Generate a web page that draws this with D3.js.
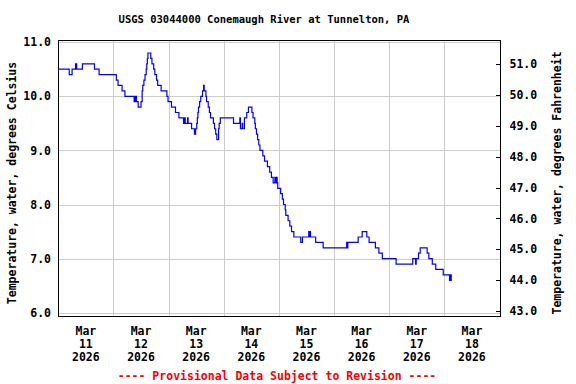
<!DOCTYPE html>
<html><head><meta charset="utf-8">
<script src="https://cdn.jsdelivr.net/npm/d3@7"></script>
<style>html,body{margin:0;padding:0;background:#fff;}svg{display:block;}</style>
</head><body>
<svg id="chart" width="576" height="384"></svg>
<script>
// ---- data ----
const obsTimes = [
"03-11 00:00","03-11 04:45","03-11 06:00","03-11 07:30","03-11 08:00","03-11 10:30","03-11 15:45","03-11 17:45",
"03-12 01:15","03-12 02:00","03-12 03:45","03-12 05:00","03-12 09:00","03-12 09:30","03-12 10:00","03-12 10:45",
"03-12 12:00","03-12 12:30","03-12 12:45","03-12 13:15","03-12 13:45","03-12 14:15","03-12 14:30","03-12 14:45",
"03-12 15:00","03-12 16:15","03-12 16:45","03-12 17:30","03-12 18:00","03-12 18:45","03-12 19:15","03-12 20:45",
"03-12 23:15","03-12 23:45","03-13 01:15","03-13 03:00","03-13 04:30","03-13 06:30","03-13 07:00","03-13 07:15",
"03-13 08:15","03-13 08:30","03-13 10:00","03-13 11:15","03-13 11:45","03-13 12:15","03-13 12:30","03-13 12:45",
"03-13 13:00","03-13 13:30","03-13 14:00","03-13 14:45","03-13 15:15","03-13 15:30","03-13 16:15","03-13 16:30",
"03-13 17:15","03-13 17:45","03-13 18:15","03-13 19:30","03-13 20:00","03-13 20:30","03-13 21:00","03-13 21:45",
"03-13 22:00","03-13 22:30","03-14 04:15","03-14 07:00","03-14 07:15","03-14 08:00","03-14 08:15","03-14 09:00",
"03-14 10:00","03-14 10:45","03-14 12:15","03-14 12:45","03-14 13:30","03-14 13:45","03-14 14:15","03-14 14:45",
"03-14 15:15","03-14 15:45","03-14 17:00","03-14 17:45","03-14 19:00","03-14 20:00","03-14 20:45","03-14 21:30",
"03-14 22:15","03-14 22:30","03-14 23:00","03-14 23:15","03-14 23:30","03-15 00:45","03-15 01:30","03-15 02:00",
"03-15 02:45","03-15 03:00","03-15 04:00","03-15 04:45","03-15 05:30","03-15 06:30","03-15 09:30","03-15 10:15",
"03-15 13:00","03-15 13:15","03-15 13:30","03-15 13:45","03-15 16:00","03-15 19:15","03-16 05:30","03-16 05:45",
"03-16 06:00","03-16 10:30","03-16 12:15","03-16 14:15","03-16 15:15","03-16 18:00","03-16 19:30","03-16 21:00",
"03-17 03:00","03-17 10:15","03-17 11:30","03-17 11:45","03-17 12:45","03-17 13:30","03-17 16:30","03-17 17:15",
"03-17 18:45","03-17 20:15","03-17 23:30","03-18 02:15","03-18 02:45","03-18 03:00","03-18 03:15"
];
const tempC = [
10.5,10.4,10.5,10.6,10.5,10.6,10.5,10.4,
10.3,10.2,10.1,10.0,9.9,10.0,9.9,9.8,
9.9,10.1,10.2,10.3,10.4,10.5,10.6,10.7,
10.8,10.7,10.6,10.5,10.4,10.3,10.2,10.1,
10.0,9.9,9.8,9.7,9.6,9.5,9.6,9.5,
9.6,9.5,9.4,9.3,9.4,9.5,9.6,9.7,
9.8,9.9,10.0,10.1,10.2,10.1,10.0,9.9,
9.8,9.7,9.6,9.5,9.4,9.3,9.2,9.4,
9.5,9.6,9.5,9.6,9.4,9.5,9.4,9.6,
9.7,9.8,9.7,9.6,9.5,9.4,9.3,9.2,
9.1,9.0,8.9,8.8,8.7,8.6,8.5,8.4,
8.5,8.4,8.5,8.4,8.3,8.2,8.1,8.0,
7.9,7.8,7.7,7.6,7.5,7.4,7.3,7.4,
7.5,7.4,7.5,7.4,7.3,7.2,7.3,7.2,
7.3,7.4,7.5,7.4,7.3,7.2,7.1,7.0,
6.9,7.0,6.9,7.0,7.1,7.2,7.1,7.0,
6.9,6.8,6.7,6.6,6.7,6.6,6.6
];
const celsiusTicks = [6, 7, 8, 9, 10, 11];
const fahrenheitTicks = [43, 44, 45, 46, 47, 48, 49, 50, 51];
const dayTicks = ["03-11","03-12","03-13","03-14","03-15","03-16","03-17","03-18"];
const titleText = "USGS 03044000 Conemaugh River at Tunnelton, PA";
const leftLabel = "Temperature, water, degrees Celsius";
const rightLabel = "Temperature, water, degrees Fahrenheit";
const footText = "---- Provisional Data Subject to Revision ----";
const yearText = "2026";

// ---- drawing ----
const parse = d3.timeParse("%Y-%m-%d %H:%M");
const data = obsTimes.map((t, i) => ({ t: parse(yearText + "-" + t), v: tempC[i] }));

const FONT = "'DejaVu Sans Mono', monospace";
const FS = "11.5px";
const svg = d3.select("#chart");
const L = 58, R = 500, T = 40, B = 316;

const x = d3.scaleTime()
  .domain([parse(yearText + "-03-11 00:00"), parse(yearText + "-03-19 00:00")])
  .range([58.3, 499.5]);
const yC = d3.scaleLinear().domain([5.94, 11.04]).range([B, T]);
const yF = d3.scaleLinear().domain([43, 51]).range([311, 64]);

// grid
const grid = svg.append("g").attr("stroke", "#cccccc").attr("stroke-width", 1).attr("shape-rendering", "crispEdges");
celsiusTicks.forEach(c => {
  grid.append("line").attr("x1", L).attr("x2", R).attr("y1", Math.round(yC(c)) + 0.5).attr("y2", Math.round(yC(c)) + 0.5);
});
dayTicks.slice(1).forEach(d => {
  const xx = Math.round(x(parse(yearText + "-" + d + " 00:00"))) + 0.5;
  grid.append("line").attr("x1", xx).attr("x2", xx).attr("y1", T).attr("y2", B);
});

// data line
const line = d3.line().x(d => x(d.t)).y(d => yC(d.v)).curve(d3.curveStepAfter);
svg.append("path").datum(data)
  .attr("fill", "none").attr("stroke", "#0000ff").attr("stroke-width", 1.2)
  .attr("d", line);

// frame
svg.append("rect").attr("x", L + 0.5).attr("y", T + 0.5).attr("width", R - L).attr("height", B - T)
  .attr("fill", "none").attr("stroke", "#000").attr("stroke-width", 1).attr("shape-rendering", "crispEdges");

// left axis labels
const leftAxis = d3.axisLeft(yC).tickValues(celsiusTicks).tickFormat(d3.format(".1f")).tickSize(0).tickPadding(7);
const gL = svg.append("g").attr("transform", `translate(${L},0)`).call(leftAxis);
gL.select(".domain").remove();
gL.selectAll("text").attr("font-family", FONT).attr("font-weight", "bold").attr("font-size", FS).attr("fill", "#000");

// right axis
const rightAxis = d3.axisLeft(yF).tickValues(fahrenheitTicks).tickFormat(d3.format(".1f")).tickSize(5);
const gR = svg.append("g").attr("transform", `translate(${R + 0.5},0)`).call(rightAxis);
gR.select(".domain").remove();
gR.selectAll("line").attr("stroke", "#000").attr("shape-rendering", "crispEdges");
gR.selectAll("text").attr("text-anchor", "start").attr("x", 9)
  .attr("font-family", FONT).attr("font-weight", "bold").attr("font-size", FS).attr("fill", "#000");

// bottom axis labels (centered at noon)
const fmtMon = d3.timeFormat("%b"), fmtDay = d3.timeFormat("%d"), fmtYear = d3.timeFormat("%Y");
const gB = svg.append("g").attr("font-family", FONT).attr("font-weight", "bold").attr("font-size", FS).attr("text-anchor", "middle");
dayTicks.forEach(d => {
  const dt = parse(yearText + "-" + d + " 12:00");
  const xx = x(dt);
  gB.append("text").attr("x", xx).attr("y", 335).text(fmtMon(dt));
  gB.append("text").attr("x", xx).attr("y", 348).text(fmtDay(dt));
  gB.append("text").attr("x", xx).attr("y", 361).text(fmtYear(dt));
});

// title
svg.append("text").attr("x", 264).attr("y", 23).attr("text-anchor", "middle")
  .attr("font-family", FONT).attr("font-weight", "bold").attr("font-size", "10.5px").text(titleText);

// axis titles
svg.append("text").attr("transform", `translate(16,183) rotate(-90)`).attr("text-anchor", "middle")
  .attr("font-family", FONT).attr("font-weight", "bold").attr("font-size", FS).text(leftLabel);
svg.append("text").attr("transform", `translate(561,183) rotate(-90)`).attr("text-anchor", "middle")
  .attr("font-family", FONT).attr("font-weight", "bold").attr("font-size", FS).text(rightLabel);

// footer
svg.append("text").attr("x", 277).attr("y", 380).attr("text-anchor", "middle").attr("fill", "#ff0000")
  .attr("font-family", FONT).attr("font-weight", "bold").attr("font-size", FS).text(footText);
</script>
</body></html>
